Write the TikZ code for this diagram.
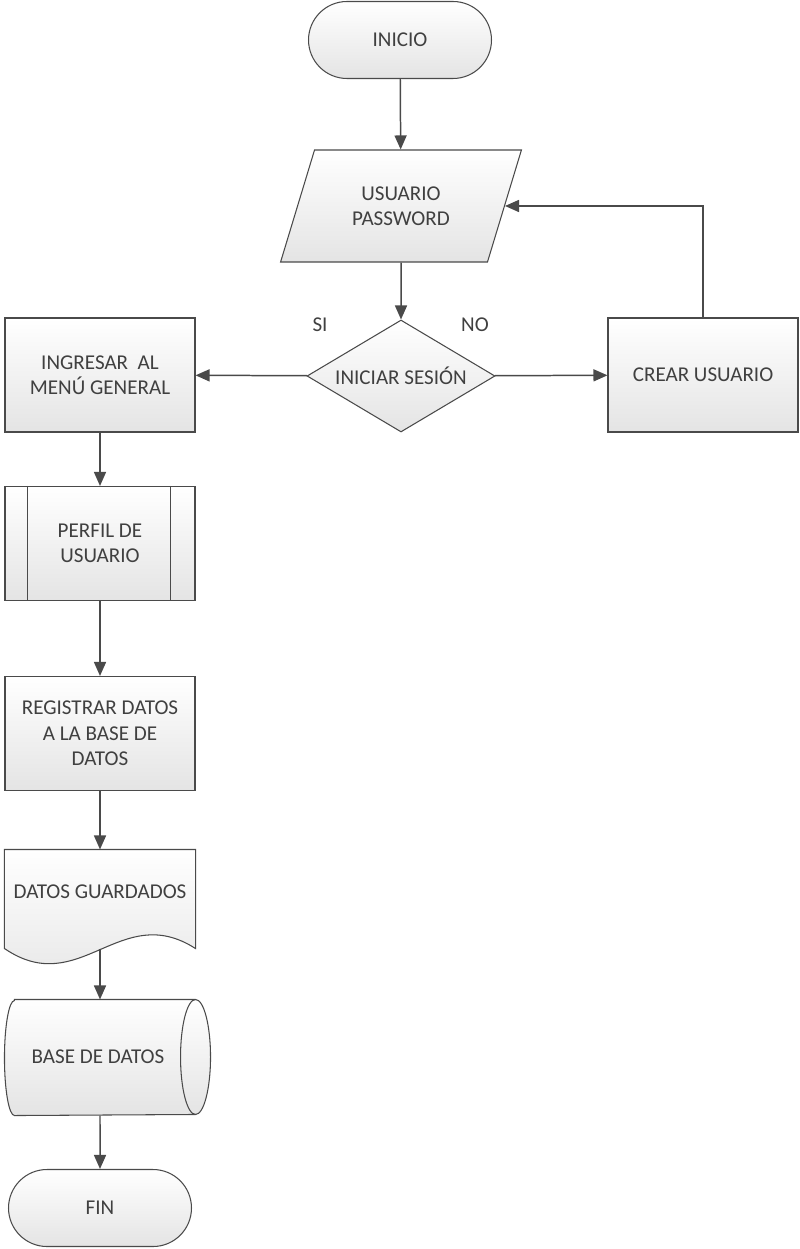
\documentclass[tikz,border=0pt]{standalone}
\usepackage{fontspec}
\setmainfont{Carlito}
\usetikzlibrary{shapes.geometric,shapes.misc,arrows.meta}
\definecolor{linegray}{HTML}{4A4A4A}
\definecolor{textgray}{HTML}{404040}
\definecolor{boxgray}{HTML}{E4E4E4}
\tikzset{
  box/.style={draw=linegray, line width=0.6pt, top color=white, bottom color=boxgray,
    text=textgray, align=center, font=\fontsize{12}{14.4}\selectfont,
    minimum width=3.8cm, minimum height=2.28cm, inner sep=2pt},
  terminal/.style={box, rounded rectangle, minimum height=1.54cm},
  datos/.style={box, trapezium, trapezium left angle=66, trapezium right angle=114,
    trapezium stretches=true, minimum width=4.84cm, minimum height=2.24cm},
  decision/.style={box, diamond, aspect=1.68, inner sep=0pt, minimum width=3.76cm, minimum height=2.24cm},
  hueco/.style={box, draw=none, shade=none, fill=none},
  forma/.style={draw=linegray, line width=0.6pt, top color=white, bottom color=boxgray},
  flecha/.style={draw=linegray, line width=0.85pt, -{Triangle[length=0.28cm,width=0.24cm]}},
  etiqueta/.style={text=textgray, font=\fontsize{12}{14.4}\selectfont}
}
\begin{document}
\begin{tikzpicture}
    \useasboundingbox (0,0) rectangle (16,-24.98);
    %% top row
    \node[terminal] (inicio) at (8,-0.8) {INICIO};
    \node[datos] (usuario) at (8.02,-4.12) {USUARIO\\PASSWORD};
    \node[decision] (sesion) at (8.02,-7.52) {INICIAR SESIÓN};
    \node[box] (ingresar) at (2,-7.5) {INGRESAR~ AL\\MENÚ GENERAL};
    \node[box] (crear) at (14.06,-7.5) {CREAR USUARIO};
    \node[etiqueta] (si) at (6.4,-6.5) {SI};
    \node[etiqueta] (no) at (9.5,-6.5) {NO};
    %% left column
    \node[box] (perfil) at (2,-10.87) {PERFIL DE\\USUARIO};
    \draw[linegray, line width=0.6pt] ([xshift=0.46cm]perfil.north west) -- ([xshift=0.46cm]perfil.south west);
    \draw[linegray, line width=0.6pt] ([xshift=-0.5cm]perfil.north east) -- ([xshift=-0.5cm]perfil.south east);
    \node[box] (registrar) at (2,-14.67) {REGISTRAR DATOS\\A LA BASE DE\\DATOS};
    %% document
    \node[hueco, minimum height=1.96cm] (guardados) at (2,-17.98) {};
    \path[forma] (guardados.south west) -- (guardados.north west) -- (guardados.north east)
        -- (guardados.south east) .. controls (2.4,-18.0) and (1.6,-20.0) .. (guardados.south west) -- cycle;
    \node[etiqueta] at (2,-17.84) {DATOS GUARDADOS};
    %% stored data
    \node[hueco, minimum height=2.3cm] (base) at (2,-21.15) {};
    \path[forma] ([xshift=0.2cm]base.north west) -- (base.north east)
        arc[start angle=90, end angle=-90, x radius=0.3cm, y radius=1.15cm]
        -- ([xshift=0.2cm]base.south west)
        arc[start angle=270, end angle=90, x radius=0.2cm, y radius=1.15cm] -- cycle;
    \draw[linegray, line width=0.6pt] (base.north east)
        arc[start angle=90, end angle=270, x radius=0.3cm, y radius=1.15cm];
    \node[etiqueta] at (1.96,-21.14) {BASE DE DATOS};
    \node[terminal] (fin) at (2,-24.16) {FIN};
    %% connectors
    \draw[flecha] (inicio) -- (usuario);
    \draw[flecha] (usuario) -- (sesion);
    \draw[flecha] (sesion) -- (ingresar);
    \draw[flecha] (sesion) -- (crear);
    \draw[flecha] (crear.north) |- (usuario.east);
    \draw[flecha] (ingresar) -- (perfil);
    \draw[flecha] (perfil) -- (registrar);
    \draw[flecha] (registrar) -- (guardados);
    \draw[flecha] (guardados.south) -- (base.north);
    \draw[flecha] (base) -- (fin);
\end{tikzpicture}
\end{document}
